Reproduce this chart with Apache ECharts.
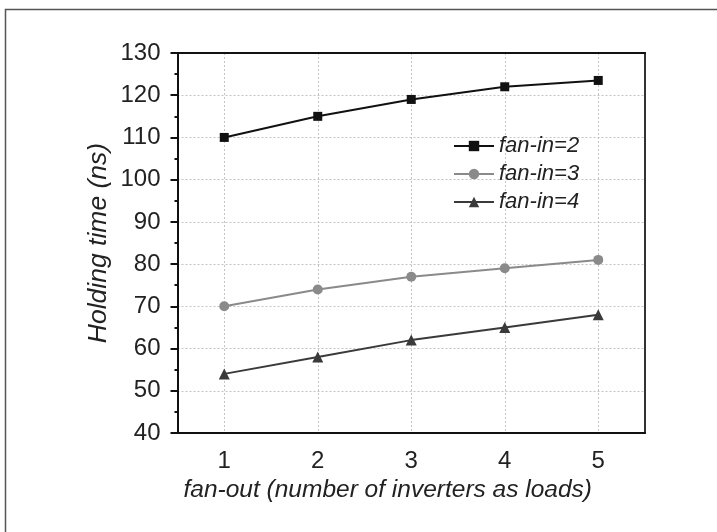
<!DOCTYPE html>
<html>
<head>
<meta charset="utf-8">
<script src="https://cdn.jsdelivr.net/npm/echarts@6/dist/echarts.min.js"></script>
<style>
html,body{margin:0;padding:0;background:#fff;}
#chart{width:717px;height:532px;}
</style>
</head>
<body>
<div id="chart"></div>
<script>
const categories = ['1', '2', '3', '4', '5'];
const seriesNames = ['fan-in=2', 'fan-in=3', 'fan-in=4'];
const fanIn2 = [110, 115, 119, 122, 123.5];
const fanIn3 = [70, 74, 77, 79, 81];
const fanIn4 = [54, 58, 62, 65, 68];
const yTicks = [40, 50, 60, 70, 80, 90, 100, 110, 120, 130];

const FONT = '"Liberation Sans", Arial, sans-serif';
const TXT = '#222';
const chart = echarts.init(document.getElementById('chart'));
chart.setOption({
  animation: false,
  backgroundColor: '#fff',
  textStyle: { fontFamily: FONT },
  graphic: [{
    type: 'rect',
    shape: { x: 5.5, y: 9.5, width: 800, height: 600 },
    style: { fill: 'none', stroke: '#555', lineWidth: 1.5 },
    silent: true
  }],
  grid: {
    left: 177.5, top: 53, right: 72, bottom: 99,
    show: false
  },
  legend: {
    data: seriesNames,
    orient: 'vertical',
    left: 448, top: 130,
    itemWidth: 40, itemHeight: 13, itemGap: 6,
    textStyle: { fontFamily: FONT, fontSize: 22, fontStyle: 'italic', color: TXT }
  },
  xAxis: [{
    type: 'category',
    data: categories,
    boundaryGap: true,
    name: 'fan-out (number of inverters as loads)',
    nameLocation: 'middle',
    nameGap: 45,
    nameMoveOverlap: false,
    nameTextStyle: { fontSize: 24.5, fontStyle: 'italic', color: TXT, padding: [0, 47, 0, 0] },
    axisLine: { lineStyle: { color: '#111', width: 2 } },
    axisTick: { alignWithLabel: true, length: 7, lineStyle: { color: '#111', width: 2 } },
    axisLabel: { fontSize: 24, color: TXT, margin: 16 },
    splitLine: { show: true, alignWithLabel: true, lineStyle: { color: '#c4c4c4', type: [2, 2], width: 1 } }
  }, {
    type: 'category',
    data: categories,
    position: 'top',
    axisLine: { show: true, lineStyle: { color: '#111', width: 2 } },
    axisTick: { show: false },
    axisLabel: { show: false },
    splitLine: { show: false }
  }],
  yAxis: [{
    type: 'value',
    min: 40, max: 130, interval: 10,
    name: 'Holding time (ns)',
    nameLocation: 'middle',
    nameGap: 65,
    nameMoveOverlap: false,
    nameRotate: 90,
    nameTextStyle: { fontSize: 26.5, fontStyle: 'italic', color: TXT },
    axisLine: { show: true, lineStyle: { color: '#111', width: 2 } },
    axisTick: { show: true, length: 7, lineStyle: { color: '#111', width: 2 } },
    minorTick: { show: true, splitNumber: 2, length: 3, lineStyle: { color: '#111', width: 2 } },
    axisLabel: { fontSize: 24, color: TXT, margin: 17,
      formatter: v => yTicks.includes(v) ? String(v) : '' },
    splitLine: { show: true, lineStyle: { color: '#c4c4c4', type: [2, 2], width: 1 } }
  }, {
    type: 'value',
    min: 40, max: 130, interval: 10,
    position: 'right',
    axisLine: { show: true, lineStyle: { color: '#333', width: 2 } },
    axisTick: { show: false },
    axisLabel: { show: false },
    splitLine: { show: false }
  }],
  series: [
    { name: seriesNames[0], type: 'line', data: fanIn2, symbol: 'rect', symbolSize: 9,
      itemStyle: { color: '#111' }, lineStyle: { color: '#111', width: 2 } },
    { name: seriesNames[1], type: 'line', data: fanIn3, symbol: 'circle', symbolSize: 10,
      itemStyle: { color: '#8a8a8a' }, lineStyle: { color: '#8a8a8a', width: 2 } },
    { name: seriesNames[2], type: 'line', data: fanIn4, symbol: 'triangle', symbolSize: 11,
      itemStyle: { color: '#3a3a3a' }, lineStyle: { color: '#3a3a3a', width: 2 } }
  ]
});
</script>
</body>
</html>
